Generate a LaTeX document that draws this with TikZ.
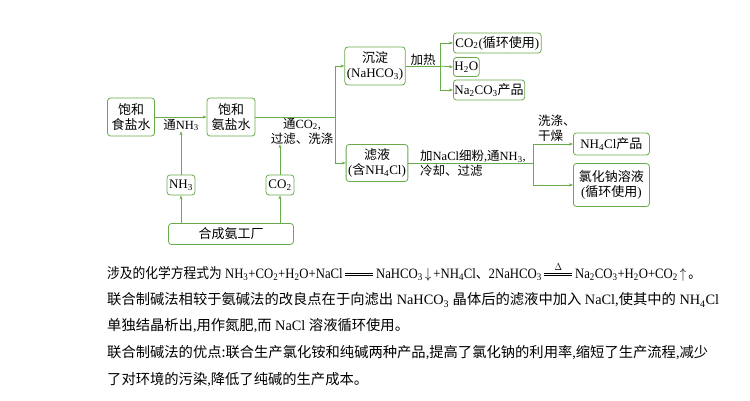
\documentclass[tikz,border=0pt]{standalone}
\usepackage{fontspec}
\setmainfont{Liberation Serif}
\newfontfamily\cjk{Noto Sans CJK SC}
\usetikzlibrary{arrows.meta}
\definecolor{gr}{RGB}{105,170,75}
\newcommand{\Sb}[1]{\textsubscript{#1}}
\newcommand{\C}[1]{{\cjk #1}}
\newcommand{\dbleq}[1]{\mbox{\hspace{3pt}\raisebox{2.2pt}{\rlap{\rule{2.2em}{0.6pt}}\raisebox{2.6pt}{\rule{2.2em}{0.6pt}}}\hspace{-2.2em}\makebox[2.2em]{\raisebox{8pt}{\fontsize{10}{10}\selectfont #1}}\hspace{3pt}}}
\begin{document}
\begin{tikzpicture}[x=1pt,y=-1pt,
 box/.style={draw=gr,line width=0.8pt,rounded corners=3pt,fill=white,inner sep=2pt,align=center,font=\fontsize{13}{15}\selectfont},
 lab/.style={inner sep=0pt,align=left,font=\fontsize{12.5}{15}\selectfont},
 ln/.style={draw=gr,line width=0.8pt},
 ar/.style={ln,-{Stealth[length=4pt,width=3pt]}},
 txt/.style={anchor=west,inner sep=0pt,font=\fontsize{14.3}{16}\selectfont}]
\useasboundingbox (0,0) rectangle (750,401);
\node[box,minimum width=47pt,minimum height=38pt] (a) at (131,117) {\C{饱和}\\\C{食盐水}};
\node[box,minimum width=48pt,minimum height=38pt] (b) at (231,117) {\C{饱和}\\\C{氨盐水}};
\node[box,minimum width=56pt,minimum height=38pt] (c) at (375,66) {\C{沉淀}\\(NaHCO\Sb{3})};
\node[box,minimum width=61pt,minimum height=37pt] (d) at (377,163) {\C{滤液}\\(\C{含}NH\Sb{4}Cl)};
\node[box,minimum width=27pt,minimum height=20pt] (n) at (181,185) {NH\Sb{3}};
\node[box,minimum width=28pt,minimum height=20pt] (o) at (280,185) {CO\Sb{2}};
\node[box,minimum width=125pt,minimum height=21pt] (f) at (231,234) {\C{合成氨工厂}};
\node[box,anchor=west,minimum height=20pt] (e1) at (453,43) {CO\Sb{2}(\C{循环使用})};
\node[box,anchor=west,minimum height=19pt,inner sep=1pt] (e2) at (453,67) {H\Sb{2}O};
\node[box,anchor=west,minimum height=20pt,inner sep=1pt] (e3) at (453,90) {Na\Sb{2}CO\Sb{3}\C{产品}};
\node[box,anchor=west,minimum width=76pt,minimum height=22pt] (g1) at (573,144) {NH\Sb{4}Cl\C{产品}};
\node[box,anchor=west,minimum width=76pt,minimum height=43pt] (g2) at (573,185) {\C{氯化钠溶液}\\(\C{循环使用})};
% labels
\node[lab] (l1) at (181,125) {\C{通}NH\Sb{3}};
\node[lab,align=center] (l2) at (302,131) {\C{通}CO\Sb{2},\\\C{过滤、洗涤}};
\node[lab] (l3) at (423,60) {\C{加热}};
\node[lab,anchor=west] (l4) at (538,128) {\C{洗涤、}\\\C{干燥}};
\node[lab,anchor=west] (l5) at (420,163) {\C{加}NaCl\C{细粉},\C{通}NH\Sb{3},\\\C{冷却、过滤}};
% connectors
\draw[ar] (a.east) -- (b.west);
\draw[ar] (n.north) -- (l1.south);
\draw[ar] (o.north) -- (l2.south -| o.north);
\draw[ar] (f.north -| n) -- (n.south);
\draw[ar] (f.north -| o) -- (o.south);
\coordinate (j1) at (335,117);
\draw[ln] (b.east) -- (j1);
\draw[ar] (j1) |- (c.west);
\draw[ar] (j1) |- (d.west);
\coordinate (j2) at (440,66);
\draw[ln] (c.east) -- (j2);
\draw[ar] (j2) |- (e1.west);
\draw[ar] (j2) -- (e2.west);
\draw[ar] (j2) |- (e3.west);
\coordinate (j3) at (533,163);
\draw[ln] (d.east) -- (j3);
\draw[ar] (j3) |- (g1.west);
\draw[ar] (j3) |- (g2.west);
% bottom text
\node[txt] (t1) at (107,272) {\resizebox{594pt}{\height}{\C{涉及的化学方程式为} NH\Sb{3}+CO\Sb{2}+H\Sb{2}O+NaCl\dbleq{}NaHCO\Sb{3}\,$\downarrow$\,+NH\Sb{4}Cl\C{、}2NaHCO\Sb{3}\dbleq{$\Delta$}Na\Sb{2}CO\Sb{3}+H\Sb{2}O+CO\Sb{2}\,$\uparrow$\,\C{。}}};
\node[txt] (t2) at (107,300) {\C{联合制碱法相较于氨碱法的改良点在于向滤出} NaHCO\Sb{3} \C{晶体后的滤液中加入} NaCl,\C{使其中的} NH\Sb{4}Cl};
\node[txt] (t3) at (107,326) {\C{单独结晶析出},\C{用作氮肥},\C{而} NaCl \C{溶液循环使用。}};
\node[txt] (t4) at (107,353) {\C{联合制碱法的优点:联合生产氯化铵和纯碱两种产品},\C{提高了氯化钠的利用率},\C{缩短了生产流程},\C{减少}};
\node[txt] (t5) at (107,380) {\C{了对环境的污染},\C{降低了纯碱的生产成本。}};
\end{tikzpicture}
\end{document}
